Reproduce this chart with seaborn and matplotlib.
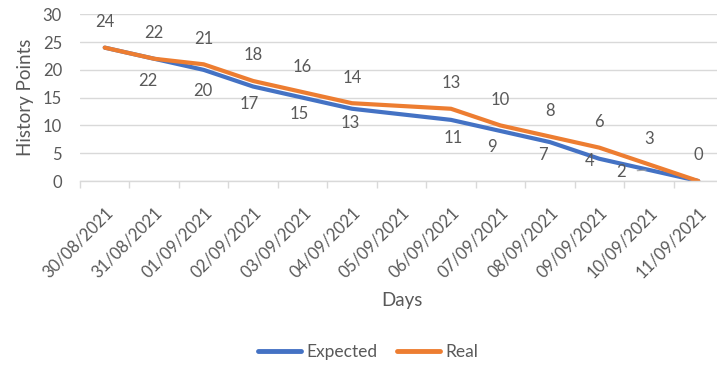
import numpy as np
import pandas as pd
import matplotlib
matplotlib.use("Agg")
import matplotlib.pyplot as plt
import seaborn as sns

# Sprint burndown data
days = ["30/08/2021", "31/08/2021", "01/09/2021", "02/09/2021", "03/09/2021",
        "04/09/2021", "05/09/2021", "06/09/2021", "07/09/2021", "08/09/2021",
        "09/09/2021", "10/09/2021", "11/09/2021"]
expected = [24, 22, 20, 17, 15, 13, np.nan, 11, 9, 7, 4, 2, 0]
real = [24, 22, 21, 18, 16, 14, np.nan, 13, 10, 8, 6, 3, 0]

# which points carry a value label
expected_labelled = [False, True, True, True, True, True, False, True, True, True, True, True, False]
real_labelled = [True, True, True, True, True, True, False, True, True, True, True, True, True]

# label offsets in pixels (dx, dy) relative to the point
expected_offsets = [(0, 0), (-6, -22), (-1, -21), (-4, -17), (-3, -16), (-2, -14), (0, 0),
                    (2, -18), (-8, -16), (-7, -13), (-10, -2), (-28, -2), (0, 0)]
real_offset = (0, 25.5)

sns.set_theme(style="white")
plt.rcParams["font.family"] = ["Lato", "DejaVu Sans"]
text_color = "#595959"
grid_color = "#d9d9d9"
blue = "#4472C4"
orange = "#ED7D31"

df = pd.DataFrame({
    "idx": list(range(len(days))) * 2,
    "value": expected + real,
    "series": ["Expected"] * len(days) + ["Real"] * len(days),
}).dropna()

fig = plt.figure(figsize=(7.17, 3.65), dpi=100)
ax = fig.add_axes([80 / 717, (365 - 181) / 365, 643 / 717, (181 - 14.3) / 365])

sns.lineplot(data=df, x="idx", y="value", hue="series", palette=[blue, orange],
             linewidth=3.0, ax=ax, legend=True, sort=True,
             solid_capstyle="round", solid_joinstyle="round")

ax.set_xlim(-0.5, 12.5)
ax.set_ylim(0, 30)
ax.set_yticks(range(0, 31, 5))
ax.yaxis.grid(True, color=grid_color, linewidth=1.0)
ax.set_axisbelow(True)
for side in ["top", "right", "left"]:
    ax.spines[side].set_visible(False)
ax.spines["bottom"].set_color(grid_color)
ax.spines["bottom"].set_linewidth(1.0)

ax.set_xticks(range(len(days)))
ax.set_xticklabels(days, rotation=45, ha="right", rotation_mode="anchor",
                   color=text_color, fontsize=12)
ax.set_xticks(np.arange(-0.5, len(days), 1.0), minor=True)
ax.tick_params(axis="x", which="major", length=0, pad=17)
ax.tick_params(axis="x", which="minor", length=5, color=grid_color, width=1, bottom=True)
ax.tick_params(axis="y", length=0, pad=13, labelcolor=text_color, labelsize=12)

ax.set_xlabel("Days", color=text_color, fontsize=13.5, labelpad=8)
ax.set_ylabel("History Points", color=text_color, fontsize=13.5, labelpad=6)

# value labels
for i, v in enumerate(real):
    if real_labelled[i]:
        ax.annotate(f"{int(v)}", xy=(i, v), xytext=real_offset, textcoords="offset pixels",
                    ha="center", va="center", color=text_color, fontsize=12)
for i, v in enumerate(expected):
    if expected_labelled[i]:
        dx, dy = expected_offsets[i]
        arrow = None
        if abs(dx) > 20:
            arrow = dict(arrowstyle="-", color="#a6a6a6", lw=0.8, shrinkA=6, shrinkB=2)
        ax.annotate(f"{int(v)}", xy=(i, v), xytext=(dx, dy), textcoords="offset pixels",
                    ha="center", va="center", color=text_color, fontsize=12,
                    arrowprops=arrow)

leg = ax.legend(loc="center", bbox_to_anchor=(368 / 717, 13 / 365),
                bbox_transform=fig.transFigure, ncol=2, frameon=False,
                handlelength=2.5, handletextpad=0.3, columnspacing=1.1, fontsize=12.5)
for t in leg.get_texts():
    t.set_color(text_color)
for h in leg.get_lines():
    h.set_linewidth(3.5)

fig.savefig("out.png", dpi=100)
